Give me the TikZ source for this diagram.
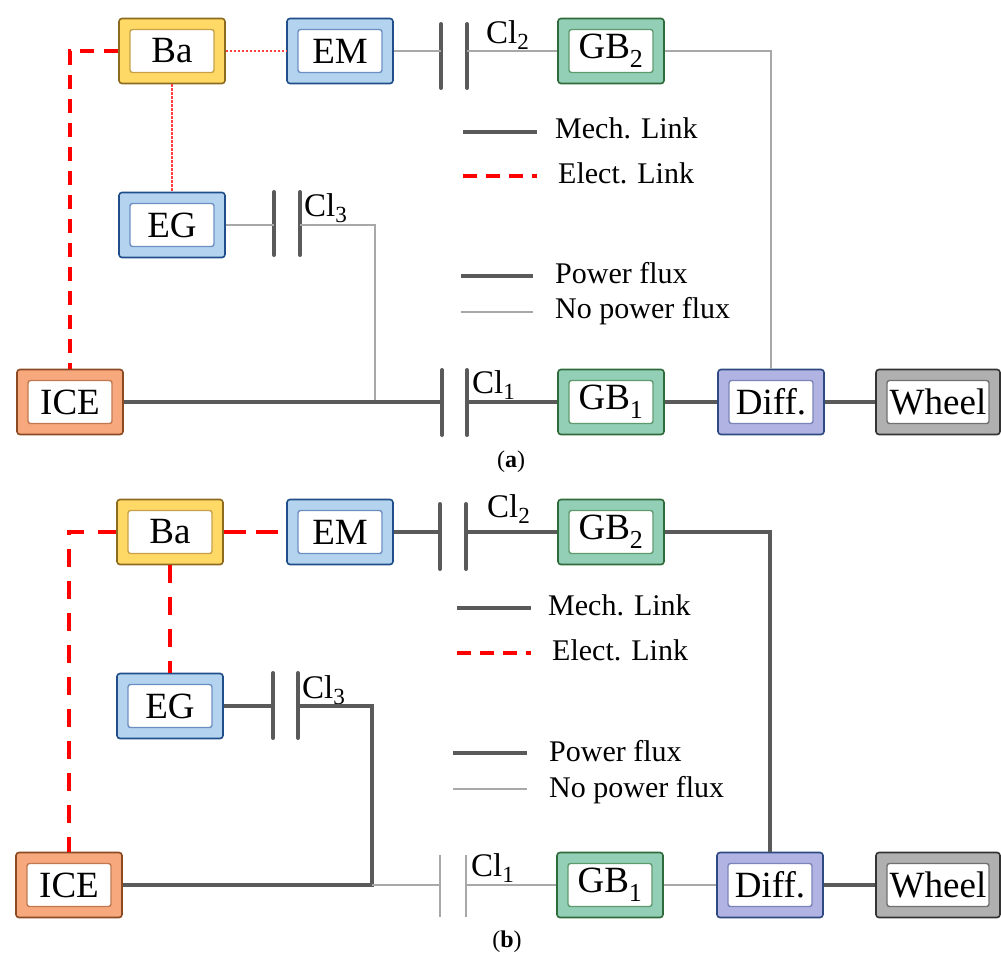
\documentclass[tikz,border=0pt]{standalone}
\usepackage{fontspec}
\setmainfont{Liberation Serif}
\definecolor{baf}{HTML}{FFD966}\definecolor{bab}{HTML}{8C6A1E}\definecolor{bai}{HTML}{C9A048}
\definecolor{emf}{HTML}{B3D3EE}\definecolor{emb}{HTML}{1F4E8B}\definecolor{emi}{HTML}{6B8FC2}
\definecolor{gbf}{HTML}{93CFB7}\definecolor{gbb}{HTML}{2F6B3A}\definecolor{gbi}{HTML}{5E9A6E}
\definecolor{icef}{HTML}{F7A87C}\definecolor{iceb}{HTML}{8B4A22}\definecolor{icei}{HTML}{C07850}
\definecolor{dff}{HTML}{B1B3E3}\definecolor{dfb}{HTML}{2E4A80}\definecolor{dfi}{HTML}{7A84B8}
\definecolor{whf}{HTML}{B0B0B0}\definecolor{whb}{HTML}{333333}\definecolor{whi}{HTML}{707070}
\definecolor{dk}{HTML}{5A5A5A}\definecolor{lt}{HTML}{A8A8A8}\definecolor{pinkred}{HTML}{FF4040}
\begin{document}
\begin{tikzpicture}[x=1pt,y=-1pt,
  blk/.style n args={3}{draw=#1, fill=#2, line width=1.6pt, rounded corners=3pt,
    minimum width=106pt, minimum height=65pt, inner sep=0pt,
    font=\fontsize{37}{40}\selectfont,
    path picture={\draw[draw=#3, fill=white, line width=1.4pt, rounded corners=2.5pt]
      ([shift={(11pt,-11pt)}]path picture bounding box.north west) rectangle
      ([shift={(-11pt,11pt)}]path picture bounding box.south east);}},
  bablk/.style={blk={bab}{baf}{bai}},
  emblk/.style={blk={emb}{emf}{emi}},
  gbblk/.style={blk={gbb}{gbf}{gbi}},
  iceblk/.style={blk={iceb}{icef}{icei}},
  dfblk/.style={blk={dfb}{dff}{dfi}},
  whblk/.style={blk={whb}{whf}{whi}, minimum width=124pt},
  pw/.style={draw=dk, line width=4.5pt},
  npw/.style={draw=lt, line width=1.2pt},
  bar/.style={draw=dk, line width=4pt, line cap=round},
  barthin/.style={draw=lt, line width=1.2pt},
  elA/.style={draw=red, line width=4pt, dash pattern=on 14pt off 10pt},
  elB/.style={draw=red, line width=4pt, dash pattern=on 18pt off 14pt},
  elBh/.style={draw=red, line width=4pt, dash pattern=on 22pt off 10pt},
  eldot/.style={draw=pinkred, line width=1.3pt, dash pattern=on 2.5pt off 1.5pt},
  cllab/.style={font=\fontsize{33}{36}\selectfont, anchor=base west, inner sep=0pt},
  leglab/.style={font=\fontsize{30}{34}\selectfont, anchor=base west, inner sep=0pt},
  captxt/.style={font=\fontsize{24}{28}\selectfont, inner sep=0pt}]
\useasboundingbox (0,0) rectangle (1001,959);

% ================= panel (a) =================
\node[bablk] (a-Ba) at (172,51) {Ba};
\node[emblk] (a-EM) at (340,51) {EM};
\node[gbblk] (a-GB2) at (611,51) {GB\textsubscript{2}};
\node[emblk] (a-EG) at (172,225) {EG};
\node[iceblk] (a-ICE) at (70,402) {ICE};
\node[gbblk] (a-GB1) at (611,402) {GB\textsubscript{1}};
\node[dfblk] (a-Diff) at (771,402) {Diff.};
\node[whblk] (a-Wh) at (938,402) {Wheel};

\coordinate (a-c2l) at (441,51); \coordinate (a-c2r) at (467,51);
\coordinate (a-c3l) at (274,225); \coordinate (a-c3r) at (300,225);
\coordinate (a-c1l) at (442,402); \coordinate (a-c1r) at (467,402);
\coordinate (a-j) at (375,402);

\draw[bar] (a-c2l) ++(0,-27) -- ++(0,64);
\draw[bar] (a-c2r) ++(0,-27) -- ++(0,64);
\draw[bar] (a-c3l) ++(0,-33) -- ++(0,63);
\draw[bar] (a-c3r) ++(0,-33) -- ++(0,63);
\draw[bar] (a-c1l) ++(0,-32) -- ++(0,65);
\draw[bar] (a-c1r) ++(0,-32) -- ++(0,65);

\node[cllab] (a-Cl2) at (486,43) {Cl\textsubscript{2}};
\node[cllab] (a-Cl3) at (304,216) {Cl\textsubscript{3}};
\node[cllab] (a-Cl1) at (472,393) {Cl\textsubscript{1}};

\draw[elA] (a-Ba.west) -| (a-ICE.north);
\draw[eldot] (a-Ba) -- (a-EM);
\draw[eldot] (a-Ba) -- (a-EG);
\draw[npw] (a-EM) -- (a-c2l);
\draw[npw] (a-c2r) -- (a-GB2);
\draw[npw] (a-GB2.east) -| (a-Diff.north);
\draw[npw] (a-EG) -- (a-c3l);
\draw[npw] (a-c3r) -| (a-j);
\draw[pw] (a-ICE) -- (a-c1l);
\draw[pw] (a-c1r) -- (a-GB1);
\draw[pw] (a-GB1) -- (a-Diff);
\draw[pw] (a-Diff) -- (a-Wh);

% legend (a)
\coordinate (a-l1s) at (463,132); \coordinate (a-l1e) at (537,132);
\coordinate (a-l2s) at (463,176); \coordinate (a-l2e) at (537,176);
\coordinate (a-l3s) at (461,276); \coordinate (a-l3e) at (533,276);
\coordinate (a-l4s) at (461,312); \coordinate (a-l4e) at (533,312);
\draw[draw=dk, line width=4pt] (a-l1s) -- (a-l1e);
\draw[draw=red, line width=4pt, dash pattern=on 14pt off 9pt] (a-l2s) -- (a-l2e);
\draw[pw, line width=4pt] (a-l3s) -- (a-l3e);
\draw[npw] (a-l4s) -- (a-l4e);
\node[leglab] (a-t1) at (555,138) {Mech. Link};
\node[leglab] (a-t2) at (558,183) {Elect. Link};
\node[leglab] (a-t3) at (555,283) {Power flux};
\node[leglab] (a-t4) at (555,318) {No power flux};
\node[captxt] (a-cap) at (511,462) {(\textbf{a})};

% ================= panel (b) =================
\node[bablk] (b-Ba) at (170,532) {Ba};
\node[emblk] (b-EM) at (340,532) {EM};
\node[gbblk] (b-GB2) at (611,532) {GB\textsubscript{2}};
\node[emblk] (b-EG) at (170,706) {EG};
\node[iceblk] (b-ICE) at (69,885) {ICE};
\node[gbblk] (b-GB1) at (610,885) {GB\textsubscript{1}};
\node[dfblk] (b-Diff) at (770,885) {Diff.};
\node[whblk] (b-Wh) at (938,885) {Wheel};

\coordinate (b-c2l) at (440,532); \coordinate (b-c2r) at (466,532);
\coordinate (b-c3l) at (273,706); \coordinate (b-c3r) at (298,706);
\coordinate (b-c1l) at (440,885); \coordinate (b-c1r) at (466,885);
\coordinate (b-j1) at (372,706); \coordinate (b-j2) at (372,885);

\draw[bar] (b-c2l) ++(0,-28) -- ++(0,65);
\draw[bar] (b-c2r) ++(0,-28) -- ++(0,65);
\draw[bar] (b-c3l) ++(0,-33) -- ++(0,65);
\draw[bar] (b-c3r) ++(0,-33) -- ++(0,65);
\draw[barthin] (b-c1l) ++(0,-30) -- ++(0,62);
\draw[barthin] (b-c1r) ++(0,-30) -- ++(0,62);

\node[cllab] (b-Cl2) at (487,517) {Cl\textsubscript{2}};
\node[cllab] (b-Cl3) at (302,698) {Cl\textsubscript{3}};
\node[cllab] (b-Cl1) at (471,876) {Cl\textsubscript{1}};

\draw[elB] (b-Ba.west) -| (b-ICE.north);
\draw[elBh] (b-Ba) -- (b-EM);
\draw[elB] (b-Ba) -- (b-EG);
\draw[pw] (b-EM) -- (b-c2l);
\draw[pw] (b-c2r) -- (b-GB2);
\draw[pw] (b-GB2.east) -| (b-Diff.north);
\draw[pw] (b-EG) -- (b-c3l);
\draw[pw] (b-c3r) -- (b-j1) -- (b-j2) -- (b-ICE);
\draw[npw] (b-j2) -- (b-c1l);
\draw[npw] (b-c1r) -- (b-GB1);
\draw[npw] (b-GB1) -- (b-Diff);
\draw[pw] (b-Diff) -- (b-Wh);

% legend (b)
\coordinate (b-l1s) at (457,608); \coordinate (b-l1e) at (531,608);
\coordinate (b-l2s) at (457,653); \coordinate (b-l2e) at (531,653);
\coordinate (b-l3s) at (453,753); \coordinate (b-l3e) at (527,753);
\coordinate (b-l4s) at (453,789); \coordinate (b-l4e) at (527,789);
\draw[draw=dk, line width=4pt] (b-l1s) -- (b-l1e);
\draw[draw=red, line width=4pt, dash pattern=on 14pt off 9pt] (b-l2s) -- (b-l2e);
\draw[pw, line width=4pt] (b-l3s) -- (b-l3e);
\draw[npw] (b-l4s) -- (b-l4e);
\node[leglab] (b-t1) at (548,615) {Mech. Link};
\node[leglab] (b-t2) at (552,660) {Elect. Link};
\node[leglab] (b-t3) at (549,761) {Power flux};
\node[leglab] (b-t4) at (549,797) {No power flux};
\node[captxt] (b-cap) at (507,942) {(\textbf{b})};
\end{tikzpicture}
\end{document}
